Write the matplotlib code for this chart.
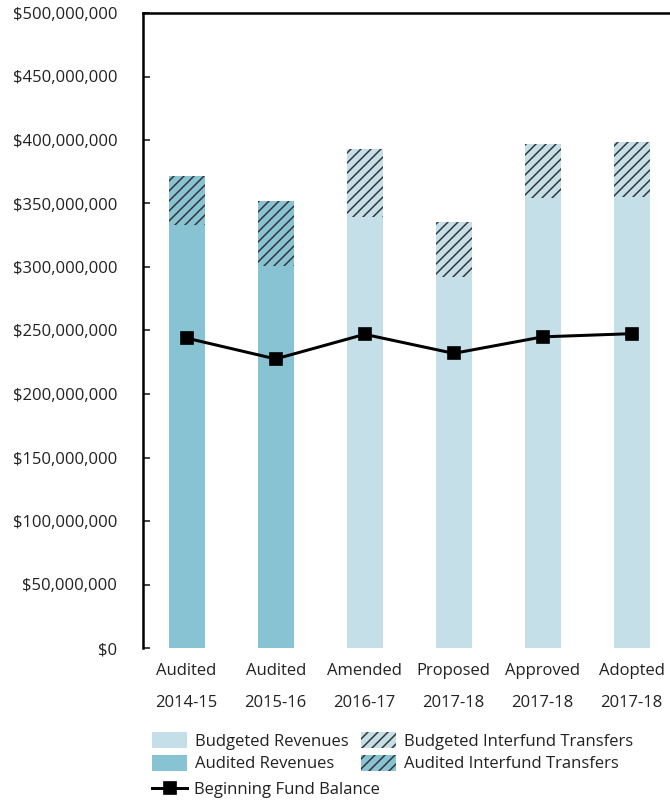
import matplotlib.pyplot as plt
from matplotlib.patches import Patch
from matplotlib.lines import Line2D
from matplotlib.ticker import FuncFormatter

categories = ["Audited\n2014-15", "Audited\n2015-16", "Amended\n2016-17",
              "Proposed\n2017-18", "Approved\n2017-18", "Adopted\n2017-18"]
audited = [True, True, False, False, False, False]
revenues = [333e6, 301e6, 339e6, 292e6, 354e6, 355e6]
transfers = [38.7e6, 51e6, 54e6, 43.4e6, 43e6, 43.4e6]
fund_balance = [244e6, 227.6e6, 247e6, 232e6, 245e6, 247.5e6]

budget_color = "#c5dfe8"
audit_color = "#88c3d4"
hatch = "////"

plt.rcParams["font.family"] = ["Open Sans", "DejaVu Sans"]
plt.rcParams["hatch.linewidth"] = 0.9

dpi = 120
fig = plt.figure(figsize=(670 / dpi, 803 / dpi), dpi=dpi)
ax = fig.add_axes([143 / 670, 1 - 648 / 803, 1 - 143 / 670, 635 / 803])

x = list(range(len(categories)))
colors = [audit_color if a else budget_color for a in audited]
ax.bar(x, revenues, width=0.405, color=colors, linewidth=0)
ax.bar(x, transfers, bottom=revenues, width=0.405, color=colors,
       edgecolor="#333333", linewidth=0, hatch=hatch)
ax.plot(x, fund_balance, color="black", linewidth=1.8, marker="s",
        markersize=7.5)

ax.set_xlim(-0.49, 5.43)
ax.set_ylim(0, 500e6)
ax.set_yticks(range(0, 500000001, 50000000))
ax.yaxis.set_major_formatter(FuncFormatter(lambda v, p: "${:,.0f}".format(v)))
ax.set_xticks(x)
ax.set_xticklabels(categories, linespacing=2.3)

for s in ["right", "bottom"]:
    ax.spines[s].set_visible(False)
ax.spines["left"].set_linewidth(1.5)
ax.spines["top"].set_linewidth(1.5)
ax.tick_params(axis="y", direction="in", length=4, width=1, labelsize=10,
               colors="#222222", pad=15.5)
ax.tick_params(axis="x", length=0, labelsize=10, colors="#222222", pad=9)

patches = [
    Patch(facecolor=budget_color, linewidth=0, label="Budgeted Revenues"),
    Patch(facecolor=audit_color, linewidth=0, label="Audited Revenues"),
    Patch(facecolor=budget_color, edgecolor="#333333", linewidth=0,
          hatch=hatch, label="Budgeted Interfund Transfers"),
    Patch(facecolor=audit_color, edgecolor="#333333", linewidth=0,
          hatch=hatch, label="Audited Interfund Transfers"),
]
leg = fig.legend(handles=patches, loc="upper left", ncol=2,
                 bbox_to_anchor=(152 / 670, 1 - 732 / 803), frameon=False,
                 fontsize=10, handlelength=2.1, handleheight=1.1,
                 handletextpad=0.5, labelspacing=0.3, columnspacing=0.7,
                 borderaxespad=0, borderpad=0)
for t in leg.get_texts():
    t.set_color("#222222")

line_handle = Line2D([], [], color="black", linewidth=1.8, marker="s",
                     markersize=7.5, label="Beginning Fund Balance")
leg2 = fig.legend(handles=[line_handle], loc="upper left",
                  bbox_to_anchor=(152 / 670, 1 - 782 / 803), frameon=False,
                  fontsize=10, handlelength=2.1, handletextpad=0.4,
                  borderaxespad=0, borderpad=0)
for t in leg2.get_texts():
    t.set_color("#222222")

fig.savefig("out.png", dpi=dpi)
